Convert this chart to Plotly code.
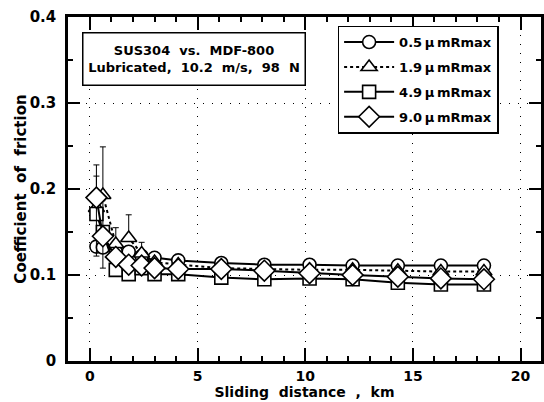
import plotly.graph_objects as go

distance_km = [0.3, 0.6, 1.2, 1.8, 2.4, 3.0, 4.1, 6.1, 8.1, 10.2, 12.2, 14.3, 16.3, 18.3]
cof_05 = [0.133, 0.132, 0.127, 0.127, 0.122, 0.120, 0.117, 0.114, 0.112, 0.112, 0.111, 0.111, 0.111, 0.111]
cof_19 = [0.178, 0.193, 0.136, 0.143, 0.125, 0.115, 0.112, 0.108, 0.107, 0.106, 0.106, 0.105, 0.104, 0.104]
cof_49 = [0.171, 0.150, 0.106, 0.101, 0.108, 0.101, 0.101, 0.097, 0.095, 0.096, 0.095, 0.091, 0.089, 0.089]
cof_90 = [0.190, 0.145, 0.121, 0.112, 0.111, 0.108, 0.107, 0.107, 0.105, 0.102, 0.100, 0.098, 0.096, 0.095]
err19_plus = [0.050, 0.056, 0.019, 0.027, 0.013, 0, 0, 0, 0, 0, 0, 0, 0, 0]
err19_minus = [0.0, 0.085, 0.0, 0.0, 0.0, 0, 0, 0, 0, 0, 0, 0, 0, 0]
err90_plus = [0.025, 0, 0, 0, 0, 0, 0, 0, 0, 0, 0, 0, 0, 0]
err90_minus = [0.068, 0, 0, 0, 0, 0, 0, 0, 0, 0, 0, 0, 0, 0]

series = [
    ("0.5\u2009\u00b5\u2009mRmax", cof_05, "circle", "solid", 13, None),
    ("1.9\u2009\u00b5\u2009mRmax", cof_19, "triangle-up", "dot", 14, (err19_plus, err19_minus)),
    ("4.9\u2009\u00b5\u2009mRmax", cof_49, "square", "solid", 13, None),
    ("9.0\u2009\u00b5\u2009mRmax", cof_90, "diamond", "solid", 16, (err90_plus, err90_minus)),
]

fig = go.Figure()
for i, (name, ys, sym, dash, sz, err) in enumerate(series):
    kw = {}
    if err is not None:
        kw["error_y"] = dict(type="data", symmetric=False, array=err[0], arrayminus=err[1],
                             color="black", thickness=1, width=3)
    fig.add_trace(go.Scatter(
        x=distance_km, y=ys, name=name, mode="lines+markers",
        legendgroup=f"g{i}",
        line=dict(color="black", width=2, dash=dash),
        marker=dict(symbol=sym, size=sz, color="white", line=dict(width=1.6, color="black")),
        **kw))

font_b = "DejaVu Sans, Liberation Sans, sans-serif"
grid_dash = "1px,8px"
fig.update_layout(
    width=544, height=402,
    margin=dict(l=68, r=0, t=17, b=41),
    paper_bgcolor="white", plot_bgcolor="white",
    font=dict(family=font_b, size=14, color="black"),
    showlegend=True,
    legend=dict(x=0.57, y=0.975, xanchor="left", yanchor="top",
                bordercolor="black", borderwidth=1.5, bgcolor="white",
                font=dict(family=font_b, size=13, color="black", weight="bold"),
                tracegroupgap=5, itemwidth=50),
    xaxis=dict(range=[-1.02, 20.95], tickvals=[0, 5, 10, 15, 20],
               ticks="inside", ticklen=13, tickwidth=1.5, tickcolor="black",
               minor=dict(dtick=1, tick0=0, ticks="inside", ticklen=5, tickcolor="black", showgrid=False),
               showline=True, linewidth=2.5, linecolor="black", mirror="ticks",
               showgrid=True, gridcolor="black", griddash=grid_dash, gridwidth=1,
               zeroline=False,
               tickfont=dict(family=font_b, size=14, color="black", weight="bold"),
               title=dict(text="Sliding  distance  ,  km", standoff=3,
                          font=dict(family=font_b, size=14, color="black", weight="bold"))),
    yaxis=dict(range=[0, 0.4], tickvals=[0, 0.1, 0.2, 0.3, 0.4],
               ticktext=["0", "0.1", "0.2", "0.3", "0.4"],
               ticks="inside", ticklen=12, tickwidth=1.5, tickcolor="black",
               ticklabelstandoff=6,
               minor=dict(dtick=0.05, tick0=0, ticks="inside", ticklen=5, tickcolor="black", showgrid=False),
               showline=True, linewidth=2.5, linecolor="black", mirror="ticks",
               showgrid=True, gridcolor="black", griddash=grid_dash, gridwidth=1,
               zeroline=False,
               tickfont=dict(family=font_b, size=15, color="black", weight="bold"),
               title=dict(text="Coefficient  of  friction", standoff=0,
                          font=dict(family=font_b, size=15, color="black", weight="bold"))),
)

fig.add_annotation(
    xref="paper", yref="paper", x=0.03, y=0.957, xanchor="left", yanchor="top",
    text="SUS304  vs.  MDF-800<br>Lubricated,  10.2  m/s,  98  N",
    showarrow=False, align="center", width=217, height=47,
    font=dict(family=font_b, size=13, color="black", weight="bold"),
    bordercolor="black", borderwidth=1.5, borderpad=2, bgcolor="white")

fig.write_html("out.html")
